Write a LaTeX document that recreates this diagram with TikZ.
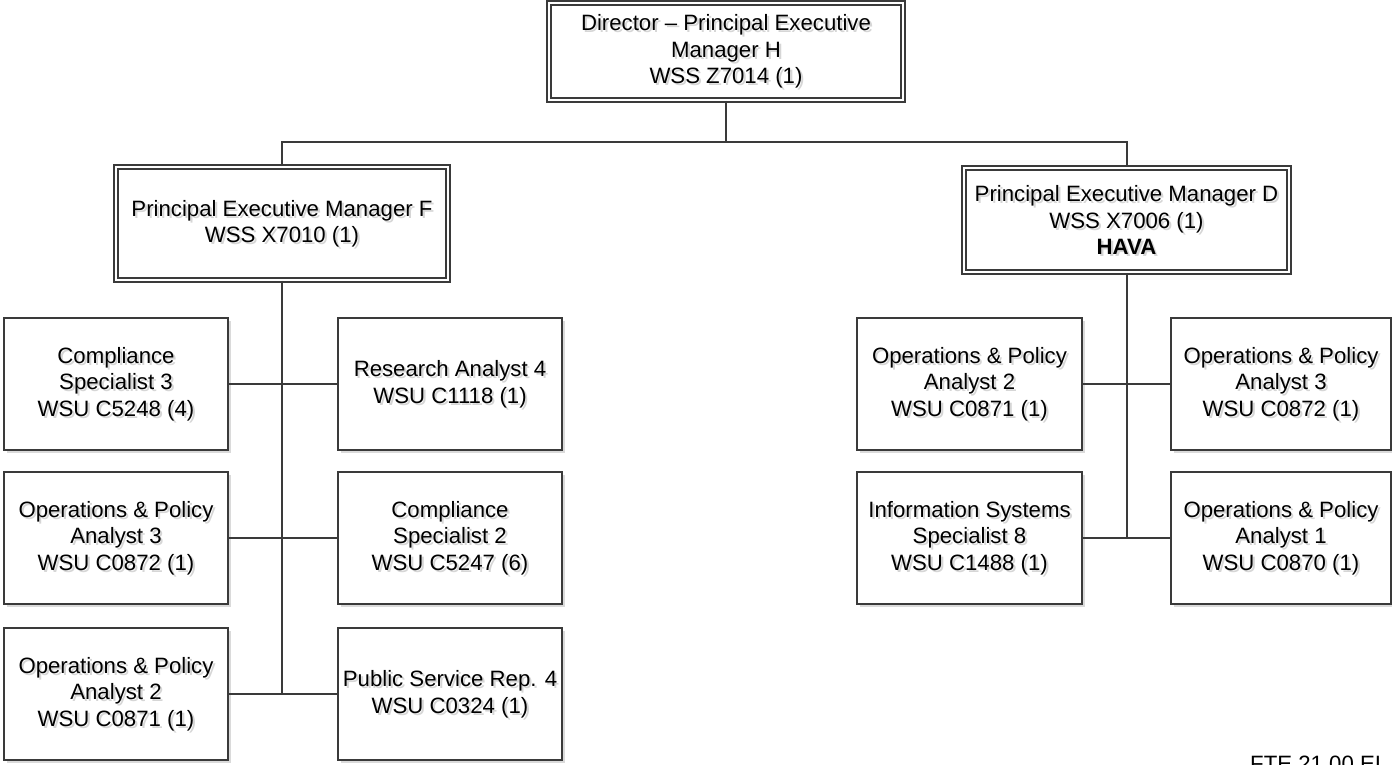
\documentclass[tikz,border=0pt]{standalone}
\usepackage{fontspec}
\setmainfont{Liberation Sans}
\usetikzlibrary{calc,shadows}
\definecolor{lineclr}{HTML}{3A3A3A}
\definecolor{shadowclr}{HTML}{DADADA}
\definecolor{txtshadowclr}{HTML}{D6D6D6}
\tikzset{
  unitbox/.style={draw=lineclr, line width=2pt, fill=white, inner sep=0pt,
    drop shadow={shadow xshift=3pt, shadow yshift=-3pt, fill=shadowclr, opacity=1}},
  execbox/.style={unitbox, double=white, double distance=2.6pt, line width=1.7pt},
  labeltext/.style={align=center, inner sep=0pt, text=black,
    font=\fontsize{22.2}{26.5}\selectfont},
  shadowtext/.style={labeltext, text=txtshadowclr},
  link/.style={draw=lineclr, line width=2pt},
}
% #1 box style, #2 name, #3 x, #4 y (centre), #5 width, #6 height, #7 text
\newcommand\orgunit[7]{%
  \node[#1, minimum width=#5pt, minimum height=#6pt] (#2) at (#3,#4) {};
  \node[shadowtext] (#2-shade) at ($(#2.center)+(2.2,2.2)$) {#7};
  \node[labeltext] (#2-text) at (#2.center) {#7};
}
\begin{document}
\begin{tikzpicture}[x=1pt,y=-1pt]
\useasboundingbox (0,0) rectangle (1392,764);

% executive level
\orgunit{execbox}{dir}{726}{51.5}{354}{97}{Director – Principal Executive\\Manager H\\WSS Z7014 (1)}
\orgunit{execbox}{pemf}{282}{223.5}{332}{113}{Principal Executive Manager F\\WSS X7010 (1)}
\orgunit{execbox}{pemd}{1126.5}{220}{325}{104}{Principal Executive Manager D\\WSS X7006 (1)\\\textbf{HAVA}}

% units under manager F
\orgunit{unitbox}{f11}{116}{384}{224}{132}{Compliance\\Specialist 3\\WSU C5248 (4)}
\orgunit{unitbox}{f12}{450}{384}{224}{132}{Research Analyst 4\\WSU C1118 (1)}
\orgunit{unitbox}{f21}{116}{538}{224}{132}{Operations \& Policy\\Analyst 3\\WSU C0872 (1)}
\orgunit{unitbox}{f22}{450}{538}{224}{132}{Compliance\\Specialist 2\\WSU C5247 (6)}
\orgunit{unitbox}{f31}{116}{694}{224}{132}{Operations \& Policy\\Analyst 2\\WSU C0871 (1)}
\orgunit{unitbox}{f32}{450}{694}{224}{132}{Public Service Rep. 4\\WSU C0324 (1)}

% units under manager D
\orgunit{unitbox}{d11}{969.5}{384}{225}{132}{Operations \& Policy\\Analyst 2\\WSU C0871 (1)}
\orgunit{unitbox}{d12}{1281}{384}{220}{132}{Operations \& Policy\\Analyst 3\\WSU C0872 (1)}
\orgunit{unitbox}{d21}{969.5}{538}{225}{132}{Information Systems\\Specialist 8\\WSU C1488 (1)}
\orgunit{unitbox}{d22}{1281}{538}{220}{132}{Operations \& Policy\\Analyst 1\\WSU C0870 (1)}

% reporting lines
\coordinate (bus) at (726,142);
\draw[link] (dir.south) -- (bus);
\draw[link] (pemf.north) |- (bus) -| (pemd.north);

\draw[link] (pemf.south) -- (pemf.south |- f31.east);
\draw[link] (f11.east) -- (f12.west);
\draw[link] (f21.east) -- (f22.west);
\draw[link] (f31.east) -- (f32.west);

\draw[link] (pemd.south) -- (pemd.south |- d21.east);
\draw[link] (d11.east) -- (d12.west);
\draw[link] (d21.east) -- (d22.west);

\node[labeltext, anchor=base west] (fte) at (1250,771) {FTE 21.00 EI};
\end{tikzpicture}
\end{document}
